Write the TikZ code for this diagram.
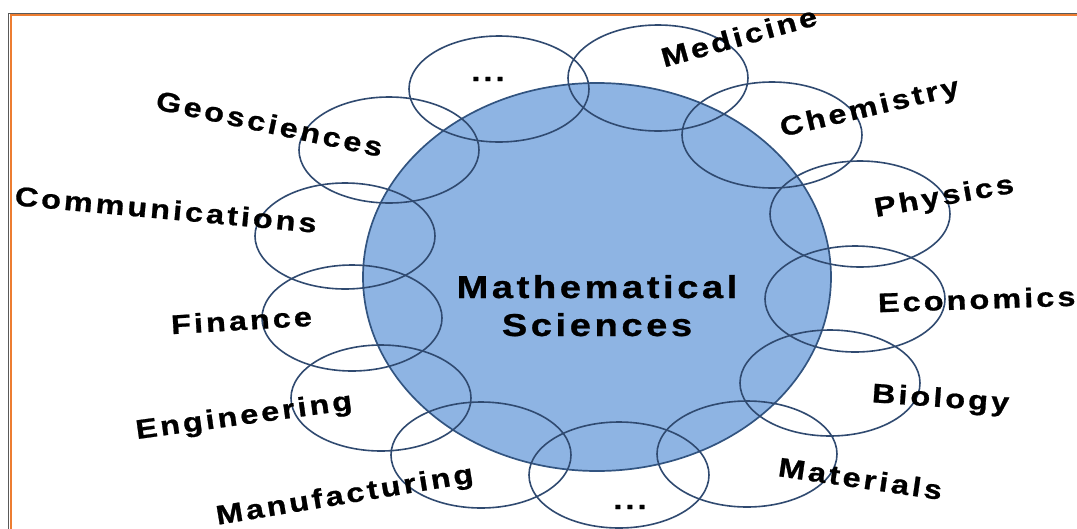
\documentclass[tikz,border=0pt]{standalone}
\usepackage{fontspec}
\newfontfamily\labelfont[LetterSpace=9.5, BoldFeatures={FakeBold=0.8}]{Liberation Sans}
\usetikzlibrary{shapes.geometric}
\definecolor{corefill}{RGB}{142,180,227}
\definecolor{coreline}{RGB}{50,84,128}
\definecolor{fieldline}{RGB}{48,74,112}
\definecolor{frameorange}{RGB}{237,125,49}
\definecolor{framegray}{RGB}{90,90,90}
\tikzset{
  mf/core/.style={draw=coreline, fill=corefill, ellipse, line width=1.7pt, minimum width=468pt, minimum height=388pt, inner sep=0pt},
  mf/field/.style={draw=fieldline, ellipse, line width=1.6pt, minimum width=180pt, minimum height=106pt, inner sep=0pt},
  mf/label/.style={font=\labelfont\bfseries\fontsize{27}{30}\selectfont, text=black, inner sep=0pt, anchor=base},
  mf/title/.style={mf/label, font=\labelfont\bfseries\fontsize{31.7}{36}\selectfont}
}
\newcommand{\wide}[1]{\scalebox{1.2}[1]{#1}}

\begin{document}
\begin{tikzpicture}[x=1pt, y=-1pt]
  \useasboundingbox (0,0) rectangle (1077,528);
  \clip (0,0) rectangle (1077,528);

  % frame
  \draw[framegray, line width=1.2pt] (8.6,540) |- (1090,13.2);
  \draw[frameorange, line width=1.8pt] (10.7,540) |- (1090,14.9);

  \node[mf/core] (math) at (597,277) {};

  \node[mf/field] (dotsTop) at (499,89) {};
  \node[mf/field] (med) at (658,78) {};
  \node[mf/field] (chem) at (772,135) {};
  \node[mf/field] (phys) at (860,214) {};
  \node[mf/field] (econ) at (855,299) {};
  \node[mf/field] (bio) at (830,383) {};
  \node[mf/field] (mat) at (747,454) {};
  \node[mf/field] (dotsBot) at (619,475) {};
  \node[mf/field] (manu) at (481,455) {};
  \node[mf/field] (eng) at (381,398) {};
  \node[mf/field] (fin) at (352,318) {};
  \node[mf/field] (comm) at (345,236) {};
  \node[mf/field] (geo) at (389,150) {};

  \node[mf/title] (mathTop) at (597,298) {\wide{Mathematical}};
  \node[mf/title] (mathBot) at (597,336) {\wide{Sciences}};

  \node[mf/label] (dotsTopTxt) at (488,81) {\wide{...}};
  \node[mf/label, rotate=15.5] (medTxt) at (741.5,46) {\wide{Medicine}};
  \node[mf/label, rotate=13.3] (chemTxt) at (871.5,115.8) {\wide{Chemistry}};
  \node[mf/label, rotate=10] (physTxt) at (945.5,204.8) {\wide{Physics}};
  \node[mf/label, rotate=1.9] (econTxt) at (977,309) {\wide{Economics}};
  \node[mf/label, rotate=-4] (bioTxt) at (940,407) {\wide{Biology}};
  \node[mf/label, rotate=-8.3] (matTxt) at (859,488) {\wide{Materials}};
  \node[mf/label] (dotsBotTxt) at (630,509) {\wide{...}};
  \node[mf/label, rotate=9.4] (manuTxt) at (346,503.6) {\wide{Manufacturing}};
  \node[mf/label, rotate=7.8] (engTxt) at (245,424.3) {\wide{Engineering}};
  \node[mf/label, rotate=3.4] (finTxt) at (242,330) {\wide{Finance}};
  \node[mf/label, rotate=-5.2] (commTxt) at (165,219) {\wide{Communications}};
  \node[mf/label, rotate=-12] (geoTxt) at (267.5,133) {\wide{Geosciences}};
\end{tikzpicture}
\end{document}
